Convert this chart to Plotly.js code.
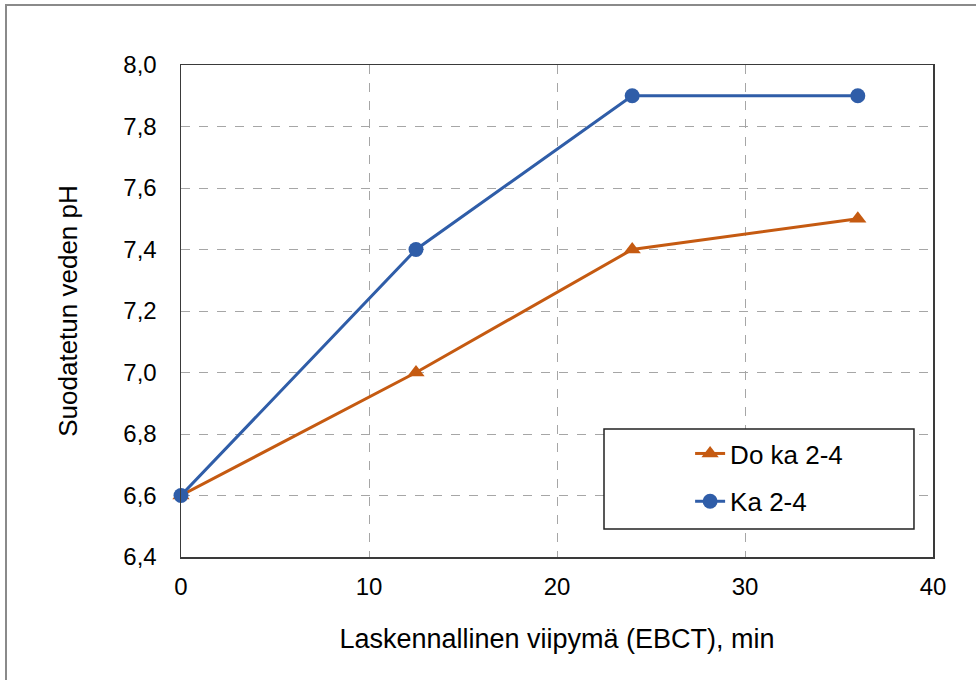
<!DOCTYPE html>
<html>
<head>
<meta charset="utf-8">
<script src="https://cdn.plot.ly/plotly-3.0.1.min.js"></script>
<style>
html,body{margin:0;padding:0;background:#fff;}
#wrap{position:relative;width:976px;height:680px;overflow:hidden;}
#chart{position:absolute;left:0;top:0;width:976px;height:680px;}
#frame{position:absolute;left:5px;top:4px;width:990px;height:700px;border-left:2px solid #8a8a8a;border-top:2px solid #8a8a8a;pointer-events:none;}
</style>
</head>
<body>
<div id="wrap"><div id="chart"></div><div id="frame"></div></div>
<script>
var ebct = [0, 12.5, 24, 36];
var doKa = [6.6, 7.0, 7.4, 7.5];
var ka = [6.6, 7.4, 7.9, 7.9];
var seriesNames = ['Do ka 2-4', 'Ka 2-4'];
var xTitle = 'Laskennallinen viipymä (EBCT), min';
var yTitle = 'Suodatetun veden pH';

var orange = '#c55a11';
var blue = '#2f5da8';
var font = 'Liberation Sans, Arial, sans-serif';

var traces = [
  {x: ebct, y: doKa, name: seriesNames[0], type: 'scatter', mode: 'lines+markers',
   legendgroup: 'a', cliponaxis: false,
   line: {color: orange, width: 3}, marker: {symbol: 'triangle-up', size: 15, color: orange}},
  {x: ebct, y: ka, name: seriesNames[1], type: 'scatter', mode: 'lines+markers',
   legendgroup: 'b', cliponaxis: false,
   line: {color: blue, width: 3}, marker: {symbol: 'circle', size: 15, color: blue}}
];

var layout = {
  width: 976, height: 680,
  margin: {l: 181, r: 43, t: 65, b: 123},
  paper_bgcolor: '#fff', plot_bgcolor: '#fff',
  separators: ', ',
  font: {family: font, size: 24, color: '#000'},
  showlegend: true,
  legend: {x: 0.677, y: 0.258, xanchor: 'left', yanchor: 'top',
    bgcolor: 'rgba(0,0,0,0)', borderwidth: 0,
    font: {family: font, size: 26, color: '#000'},
    tracegroupgap: 11, traceorder: 'grouped'},
  xaxis: {range: [0, 40], dtick: 10, tick0: 0, showgrid: true,
    gridcolor: '#a6a6a6', griddash: 'dash', gridwidth: 1,
    showline: true, linecolor: '#3a3a3a', linewidth: 1.5, mirror: true,
    ticks: 'outside', ticklen: 8, tickcolor: 'rgba(0,0,0,0)',
    zeroline: false, tickfont: {size: 24},
    title: {text: xTitle, font: {size: 27}, standoff: 30}},
  yaxis: {range: [6.4, 8.0], dtick: 0.2, tick0: 6.4, tickformat: '.1f', showgrid: true,
    gridcolor: '#a6a6a6', griddash: 'dash', gridwidth: 1,
    showline: true, linecolor: '#3a3a3a', linewidth: 1.5, mirror: true,
    ticks: 'outside', ticklen: 18, tickcolor: 'rgba(0,0,0,0)',
    zeroline: false, tickfont: {size: 24},
    title: {text: yTitle, font: {size: 26}, standoff: 38}},
  shapes: [
    {type: 'rect', xref: 'paper', yref: 'paper', x0: 0.5625, x1: 0.9747, y0: 0.0569, y1: 0.2602,
     line: {color: '#222', width: 1.5}, fillcolor: '#fff', layer: 'above'}
  ]
};

Plotly.newPlot('chart', traces, layout, {displayModeBar: false, staticPlot: true});
</script>
</body>
</html>
